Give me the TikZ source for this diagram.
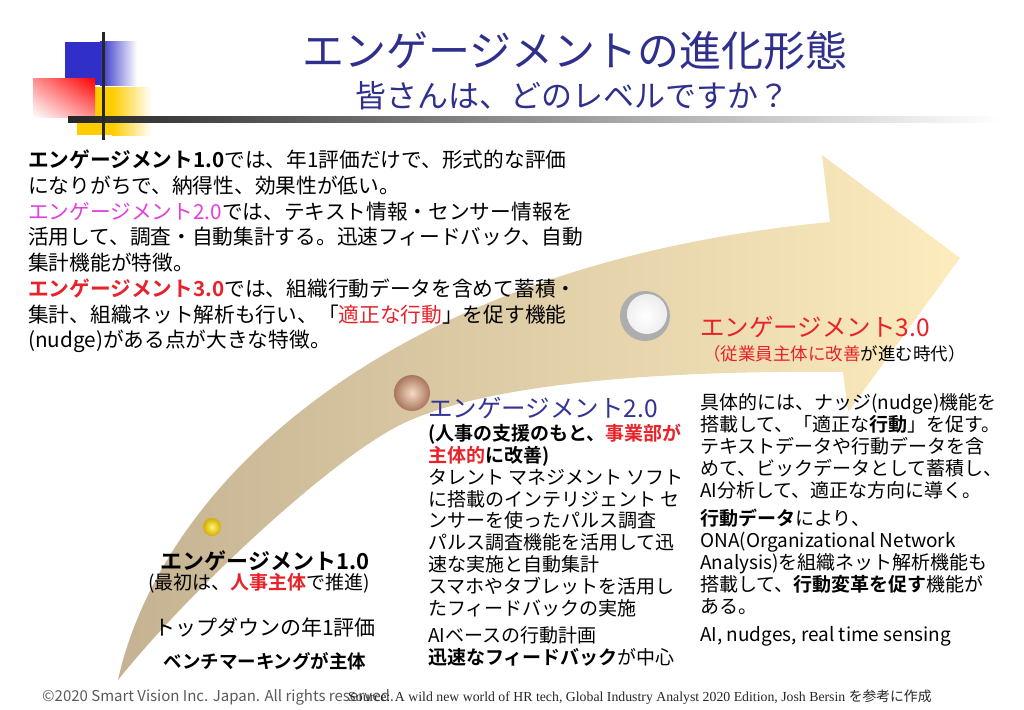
\documentclass[tikz,border=0pt]{standalone}
\usepackage{fontspec}
\setmainfont{Noto Sans CJK JP}[BoldFont={Noto Sans CJK JP Bold}]
\newfontfamily\srcfont{Liberation Serif}
\usetikzlibrary{shadings,calc}
\definecolor{navy}{RGB}{46,48,140}
\definecolor{sblue}{RGB}{52,52,150}
\definecolor{ered}{RGB}{232,34,42}
\definecolor{emag}{RGB}{226,64,222}
\definecolor{dblue}{RGB}{48,48,200}
\definecolor{dyellow}{RGB}{255,204,0}
\definecolor{bandtan}{RGB}{196,178,146}
\definecolor{bandcream}{RGB}{253,236,190}

\begin{document}
\begin{tikzpicture}[x=1pt,y=-1pt,
    txt/.style={inner sep=0pt,align=left,anchor=north west},
    ctr/.style={inner sep=0pt,anchor=north}]
\useasboundingbox (0,0) rectangle (1024,709);

% corner ornament
\fill[dblue] (65,42) rectangle (100,85);
\shade[left color=dblue,right color=white] (100,42) rectangle (137,85);
\fill[dyellow] (77,87) rectangle (112,135);
\shade[left color=dyellow,right color=white] (112,87) rectangle (152,135);
\shade[lower left=white,upper right=red,upper left=red!45,lower right=red!45] (33,78) rectangle (95,117);
\shade[left color=black!85,middle color=black!45,right color=white] (68,116) rectangle (1000,122);
\draw[line width=3pt,black!85] (103,32) -- (103,140);

% title
\node[ctr,font=\fontsize{42}{44}\selectfont,text=navy] (title) at (575,31) {エンゲージメントの進化形態};
\node[ctr,font=\fontsize{31}{33}\selectfont,text=navy] (subtitle) at (572,81) {皆さんは、どのレベルですか？};

% big curved arrow
\shade[left color=bandtan,right color=bandcream]
  (118,680) .. controls (160,490) and (380,265) .. (830,222)
  -- (822,155) -- (960,258) -- (848,412) -- (843,372)
  .. controls (650,370) and (480,385) .. (400,425)
  .. controls (330,460) and (190,590) .. (118,680) -- cycle;

% stage markers
\node[circle,inner sep=0,minimum size=18pt,inner color={rgb,255:red,255;green,245;blue,120},outer color={rgb,255:red,212;green,172;blue,0}] (dot1) at (212,527) {};
\node[circle,inner sep=0,minimum size=36pt,inner color={rgb,255:red,246;green,218;blue,198},outer color={rgb,255:red,168;green,118;blue,92}] (dot2) at (412,393) {};
\node[circle,inner sep=0,minimum size=50pt,fill=black!32,
  path picture={\shade[inner color=white,outer color=black!8] ($(path picture bounding box.center)+(2,-2)$) circle (20);}] (dot3) at (645,316) {};

% overview text
\node[txt,font=\fontsize{20.7}{25.7}\selectfont] (intro) at (28,150) {%
\textbf{エンゲージメント1.0}では、年1評価だけで、形式的な評価\\
になりがちで、納得性、効果性が低い。\\
\textcolor{emag}{エンゲージメント2.0}では、テキスト情報・センサー情報を\\
活用して、調査・自動集計する。迅速フィードバック、自動\\
集計機能が特徴。\\
\textcolor{ered}{\textbf{エンゲージメント3.0}}では、組織行動データを含めて蓄積・\\
集計、組織ネット解析も行い、「\textcolor{ered}{適正な行動}」を促す機能\\
(nudge)がある点が大きな特徴。};

% stage 1
\node[ctr,font=\fontsize{22}{24}\selectfont\bfseries] (s1title) at (265,551) {エンゲージメント1.0};
\node[ctr,font=\fontsize{19}{21}\selectfont] (s1sub) at (259,573) {(最初は、\textcolor{ered}{\textbf{人事主体}}で推進)};
\node[ctr,font=\fontsize{21}{23}\selectfont] (s1a) at (265,618) {トップダウンの年1評価};
\node[ctr,font=\fontsize{18.5}{21}\selectfont\bfseries] (s1b) at (265,652) {ベンチマーキングが主体};

% stage 2
\node[txt,font=\fontsize{24.5}{26}\selectfont,text=sblue] (s2title) at (428,397) {エンゲージメント2.0};
\node[txt,font=\fontsize{19}{21.8}\selectfont] (s2body) at (428,424) {%
\textbf{(人事の支援のもと、\textcolor{ered}{事業部が}}\\
\textbf{\textcolor{ered}{主体的}に改善)}\\
タレント マネジメント ソフト\\
に搭載のインテリジェント セ\\
ンサーを使ったパルス調査\\
パルス調査機能を活用して迅\\
速な実施と自動集計\\
スマホやタブレットを活用し\\
たフィードバックの実施\\[6pt]
AIベースの行動計画\\
\textbf{迅速なフィードバック}が中心};

% stage 3
\node[txt,font=\fontsize{24.5}{26}\selectfont,text=ered] (s3title) at (700,316) {エンゲージメント3.0};
\node[txt,font=\fontsize{17.5}{20}\selectfont] (s3sub) at (703,345) {\textcolor{ered}{（従業員主体に改善}が進む時代）};
\node[txt,font=\fontsize{19}{22}\selectfont] (s3body) at (700,393) {%
具体的には、ナッジ(nudge)機能を\\
搭載して、「適正な\textbf{行動}」を促す。\\
テキストデータや行動データを含\\
めて、ビックデータとして蓄積し、\\
AI分析して、適正な方向に導く。\\[6pt]
\textbf{行動データ}により、\\
ONA(Organizational Network\\
Analysis)を組織ネット解析機能も\\
搭載して、\textbf{行動変革を促す}機能が\\
ある。\\[6pt]
AI, nudges, real time sensing};

% footer
\node[inner sep=0,anchor=west,font=\fontsize{15}{17}\selectfont,text=black!65] (copy) at (42,697) {©2020 Smart Vision Inc. Japan. All rights reserved.};
\node[inner sep=0,anchor=west,font=\srcfont\fontsize{13.8}{15}\selectfont,text=black!85] (src) at (348,697) {Source: A wild new world of HR tech, Global Industry Analyst 2020 Edition, Josh Bersin {\normalfont\fontsize{13.8}{15}\selectfont を参考に作成}};
\end{tikzpicture}
\end{document}
